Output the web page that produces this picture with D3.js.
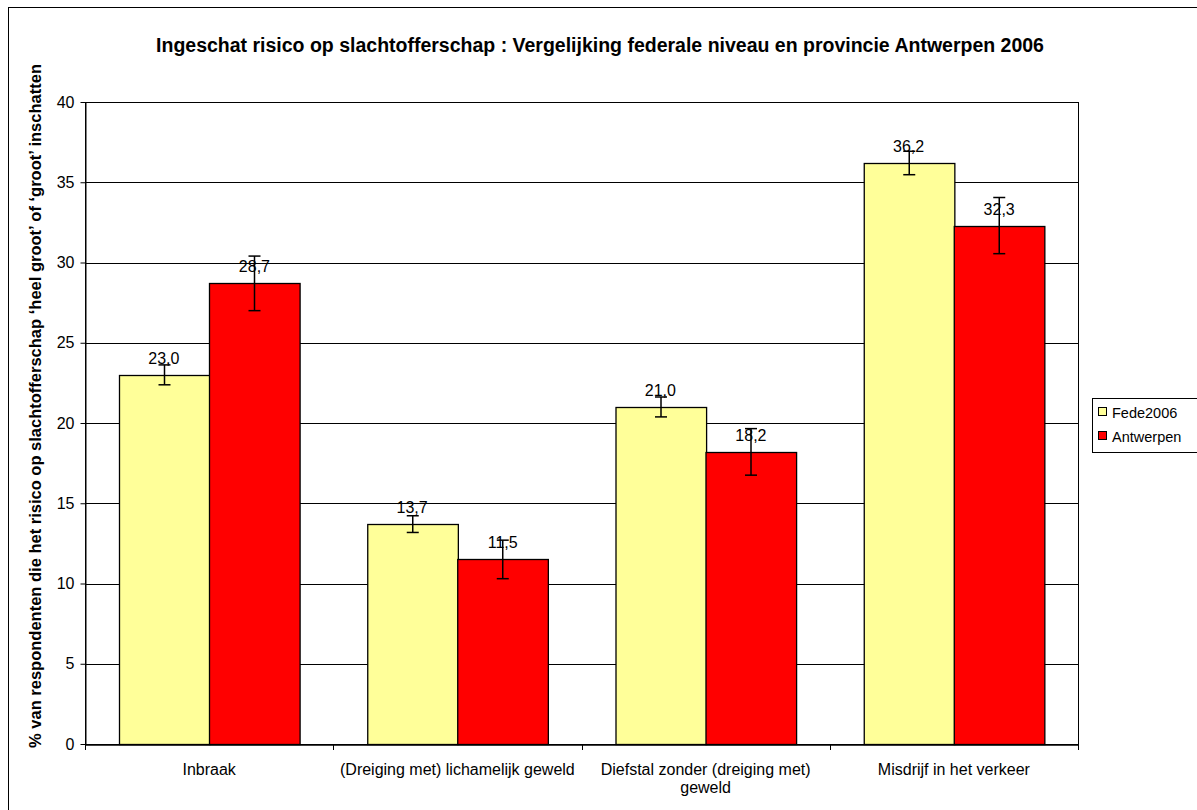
<!DOCTYPE html>
<html>
<head>
<meta charset="utf-8">
<script src="https://cdn.jsdelivr.net/npm/d3@7"></script>
<style>
  body { margin: 0; background: #fff; }
  svg { display: block; font-family: "Liberation Sans", Arial, sans-serif; }
</style>
</head>
<body>
<div id="chart"></div>
<script>
// Data
const categories = ["Inbraak", "(Dreiging met) lichamelijk geweld", "Diefstal zonder (dreiging met) geweld", "Misdrijf in het verkeer"];
const seriesNames = ["Fede2006", "Antwerpen"];
const fedeValues = [23.0, 13.7, 21.0, 36.2];
const antwerpenValues = [28.7, 11.5, 18.2, 32.3];
const fedeErrors = [0.62, 0.52, 0.62, 0.73];
const antwerpenErrors = [1.7, 1.2, 1.45, 1.75];
const yTicks = [0, 5, 10, 15, 20, 25, 30, 35, 40];
const colors = ["#ffff99", "#ff0000"];

const width = 1197, height = 810;
const margin = { top: 102, right: 119, bottom: 66, left: 85 };

const svg = d3.select("#chart").append("svg")
  .attr("width", width)
  .attr("height", height);

// outer chart border
svg.append("rect")
  .attr("x", 8.5).attr("y", 7.5)
  .attr("width", 1200).attr("height", 820)
  .attr("fill", "none").attr("stroke", "#000");

const x0 = d3.scaleBand()
  .domain(categories)
  .range([margin.left, width - margin.right])
  .paddingInner(0).paddingOuter(0);

const x1 = d3.scaleBand()
  .domain(seriesNames)
  .range([0, x0.bandwidth()])
  .paddingInner(0)
  .paddingOuter(0.37);

const y = d3.scaleLinear()
  .domain([0, 40])
  .range([height - margin.bottom, margin.top]);

// gridlines
svg.append("g")
  .selectAll("line")
  .data(yTicks.filter(d => d > 0))
  .enter().append("line")
  .attr("x1", margin.left).attr("x2", width - margin.right)
  .attr("y1", d => Math.round(y(d)) + 0.5).attr("y2", d => Math.round(y(d)) + 0.5)
  .attr("stroke", "#000").attr("stroke-width", 1);

// plot frame
svg.append("rect")
  .attr("x", margin.left + 0.5).attr("y", Math.round(y(40)) + 0.5)
  .attr("width", width - margin.right - margin.left)
  .attr("height", Math.round(y(0)) - Math.round(y(40)))
  .attr("fill", "none").attr("stroke", "#000");

const rows = categories.map((c, i) => ({
  cat: c,
  vals: [
    { s: seriesNames[0], v: fedeValues[i], e: fedeErrors[i] },
    { s: seriesNames[1], v: antwerpenValues[i], e: antwerpenErrors[i] }
  ]
}));

const groups = svg.append("g").selectAll("g")
  .data(rows)
  .enter().append("g")
  .attr("transform", d => `translate(${x0(d.cat)},0)`);

const items = groups.selectAll("g")
  .data(d => d.vals)
  .enter().append("g");

items.append("rect")
  .attr("x", d => Math.round(x1(d.s)) + 0.5)
  .attr("y", d => Math.round(y(d.v)) + 0.5)
  .attr("width", x1.bandwidth())
  .attr("height", d => Math.round(y(0)) - Math.round(y(d.v)))
  .attr("fill", (d, i) => colors[i])
  .attr("stroke", "#000").attr("stroke-width", 1.3);

// error bars
items.each(function(d) {
  const g = d3.select(this);
  const cx = Math.round(x1(d.s) + x1.bandwidth() / 2) + 0.5;
  const yt = y(d.v + d.e), yb = y(d.v - d.e);
  g.append("line").attr("x1", cx).attr("x2", cx).attr("y1", yt).attr("y2", yb)
    .attr("stroke", "#000").attr("stroke-width", 1.5);
  [yt, yb].forEach(yy => {
    g.append("line").attr("x1", cx - 6).attr("x2", cx + 6).attr("y1", yy).attr("y2", yy)
      .attr("stroke", "#000").attr("stroke-width", 1.5);
  });
});

// value labels
items.append("text")
  .attr("x", d => x1(d.s) + x1.bandwidth() / 2)
  .attr("y", d => y(d.v) - 11)
  .attr("text-anchor", "middle")
  .attr("font-size", 16)
  .text(d => d3.format(".1f")(d.v).replace(".", ","));

// Y axis
const yAxis = svg.append("g")
  .attr("transform", `translate(${margin.left + 0.5},0)`)
  .call(d3.axisLeft(y).tickValues(yTicks).tickSize(5).tickSizeOuter(0).tickFormat(d3.format("d")));
yAxis.select(".domain").attr("stroke", "#000");
yAxis.selectAll(".tick line").attr("stroke", "#000");
yAxis.selectAll("text").attr("font-size", 16).attr("fill", "#000")
  .attr("font-family", "Liberation Sans, Arial, sans-serif").attr("dx", -3);

// X axis
const xAxis = svg.append("g")
  .attr("transform", `translate(0,${Math.round(y(0)) + 0.5})`)
  .call(d3.axisBottom(x0).tickSize(0).tickFormat(""));
xAxis.select(".domain").attr("stroke", "#000").attr("stroke-width", 1.3);
svg.append("g").selectAll("line")
  .data(d3.range(categories.length + 1))
  .enter().append("line")
  .attr("x1", i => Math.round(margin.left + i * x0.bandwidth()) + 0.5)
  .attr("x2", i => Math.round(margin.left + i * x0.bandwidth()) + 0.5)
  .attr("y1", y(0)).attr("y2", y(0) + 6)
  .attr("stroke", "#000");

// category labels, wrapped to fit a band
const labelWidth = 246;
categories.forEach(c => {
  const cx = x0(c) + x0.bandwidth() / 2;
  const t = svg.append("text")
    .attr("x", cx)
    .attr("y", y(0) + 31)
    .attr("text-anchor", "middle")
    .attr("font-size", 16);
  const words = c.split(" ");
  let line = [];
  let ts = t.append("tspan").attr("x", cx).attr("dy", 0);
  words.forEach(w => {
    line.push(w);
    ts.text(line.join(" "));
    if (ts.node().getComputedTextLength() > labelWidth && line.length > 1) {
      line.pop();
      ts.text(line.join(" "));
      line = [w];
      ts = t.append("tspan").attr("x", cx).attr("dy", 18).text(w);
    }
  });
});

// Title
svg.append("text")
  .attr("x", 600).attr("y", 52)
  .attr("text-anchor", "middle")
  .attr("font-size", 19.5).attr("font-weight", "bold")
  .text("Ingeschat risico op slachtofferschap : Vergelijking federale niveau en provincie Antwerpen 2006");

// Y-axis title
svg.append("text")
  .attr("transform", `translate(41,406) rotate(-90)`)
  .attr("text-anchor", "middle")
  .attr("font-size", 16.5).attr("font-weight", "bold")
  .text("% van respondenten die het risico op slachtofferschap ‘heel groot’ of ‘groot’ inschatten");

// Legend
const legend = svg.append("g").attr("transform", "translate(1092,398)");
legend.append("rect")
  .attr("x", 0.5).attr("y", 0.5).attr("width", 120).attr("height", 54)
  .attr("fill", "#fff").attr("stroke", "#000");
seriesNames.forEach((s, i) => {
  legend.append("rect")
    .attr("x", 6.5).attr("y", 9.5 + i * 24).attr("width", 8).attr("height", 8)
    .attr("fill", colors[i]).attr("stroke", "#000");
  legend.append("text")
    .attr("x", 20).attr("y", 20 + i * 24)
    .attr("font-size", 14.5)
    .text(s);
});
</script>
</body>
</html>
